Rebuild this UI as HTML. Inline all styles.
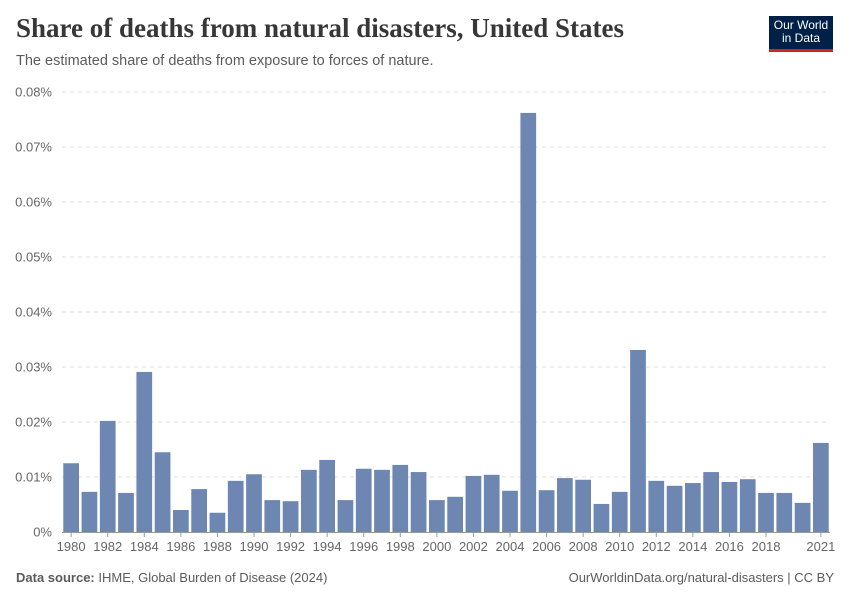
<!DOCTYPE html>
<html><head><meta charset="utf-8"><style>
body{margin:0;background:#fff;font-family:"Liberation Sans",sans-serif;}
#wrap{position:relative;width:850px;height:600px;overflow:hidden;}
</style></head><body>
<div id="wrap">
<div style="position:absolute;left:16px;top:13px;font-family:'Liberation Serif',serif;font-size:27px;color:#373737;font-weight:bold;letter-spacing:0px">Share of deaths from natural disasters, United States</div>
<div style="position:absolute;left:16px;top:53px;font-size:14.5px;color:#5b5b5b">The estimated share of deaths from exposure to forces of nature.</div>
<div style="position:absolute;left:769px;top:16px;width:64px;height:36px;background:#002147;border-bottom:3px solid #ce261e;color:#fff;font-size:12px;line-height:13px;text-align:center;padding-top:3px;box-sizing:border-box">Our World<br>in Data</div>
<svg id="chart" width="850" height="600" style="position:absolute;left:0;top:0"></svg>
<div style="position:absolute;left:16px;top:570px;font-size:13px;color:#5b5b5b"><b>Data source:</b> IHME, Global Burden of Disease (2024)</div>
<div style="position:absolute;right:16px;top:570px;font-size:13px;color:#5b5b5b">OurWorldinData.org/natural-disasters | CC BY</div>
</div>
<script>
const years=[1980,1981,1982,1983,1984,1985,1986,1987,1988,1989,1990,1991,1992,1993,1994,1995,1996,1997,1998,1999,2000,2001,2002,2003,2004,2005,2006,2007,2008,2009,2010,2011,2012,2013,2014,2015,2016,2017,2018,2019,2020,2021];
const values=[0.0125,0.0073,0.0202,0.0071,0.0291,0.0145,0.004,0.0078,0.0035,0.0093,0.0105,0.0058,0.0056,0.0113,0.0131,0.0058,0.0115,0.0113,0.0122,0.0109,0.0058,0.0064,0.0102,0.0104,0.0075,0.0762,0.0076,0.0098,0.0095,0.0051,0.0073,0.0331,0.0093,0.0084,0.0089,0.0109,0.0091,0.0096,0.0071,0.0071,0.0053,0.0162];
const yTicks=[0,0.01,0.02,0.03,0.04,0.05,0.06,0.07,0.08];
const yTickLabels=["0%","0.01%","0.02%","0.03%","0.04%","0.05%","0.06%","0.07%","0.08%"];
const xTickLabels=[1980,1982,1984,1986,1988,1990,1992,1994,1996,1998,2000,2002,2004,2006,2008,2010,2012,2014,2016,2018,2021];
const svg=document.getElementById('chart');const NS='http://www.w3.org/2000/svg';
const y0=532,y1=92,xl=62,xr=830;
const y=v=>y0-(v/0.08)*(y0-y1);
const step=(xr-xl)/years.length;
const x=yr=>xl+(years.indexOf(yr)+0.5)*step;
const bw=step*0.86;
function mk(t,a){const e=document.createElementNS(NS,t);for(const k in a)e.setAttribute(k,a[k]);svg.appendChild(e);return e;}
yTicks.forEach((t,i)=>{
 if(t>0){const g=mk('line',{x1:xl,x2:xr,y1:y(t),y2:y(t),stroke:'#ddd','stroke-dasharray':'4,4'});
 
 }
 const l=mk('text',{x:52,y:y(t)+4.5,'text-anchor':'end','font-size':13,fill:'#666','font-family':'Liberation Sans'});
 
 
 l.textContent=yTickLabels[i];
});
values.forEach((v,i)=>{
 const r=mk('rect',{x:x(years[i])-bw/2,y:y(v),width:bw,height:y0-y(v),fill:'#6d87b2'});
 
 
});
const ax=mk('line',{x1:xl,x2:xr,y1:y0+0.5,y2:y0+0.5,stroke:'#999'});


xTickLabels.forEach(t=>{
 const tk=mk('line',{x1:x(t),x2:x(t),y1:y0,y2:y0+5,stroke:'#999'});
 
 
 const l=mk('text',{x:x(t),y:y0+19,'text-anchor':'middle','font-size':13,fill:'#666','font-family':'Liberation Sans'});
 
 
 l.textContent=t;
});
</script>
</body></html>
